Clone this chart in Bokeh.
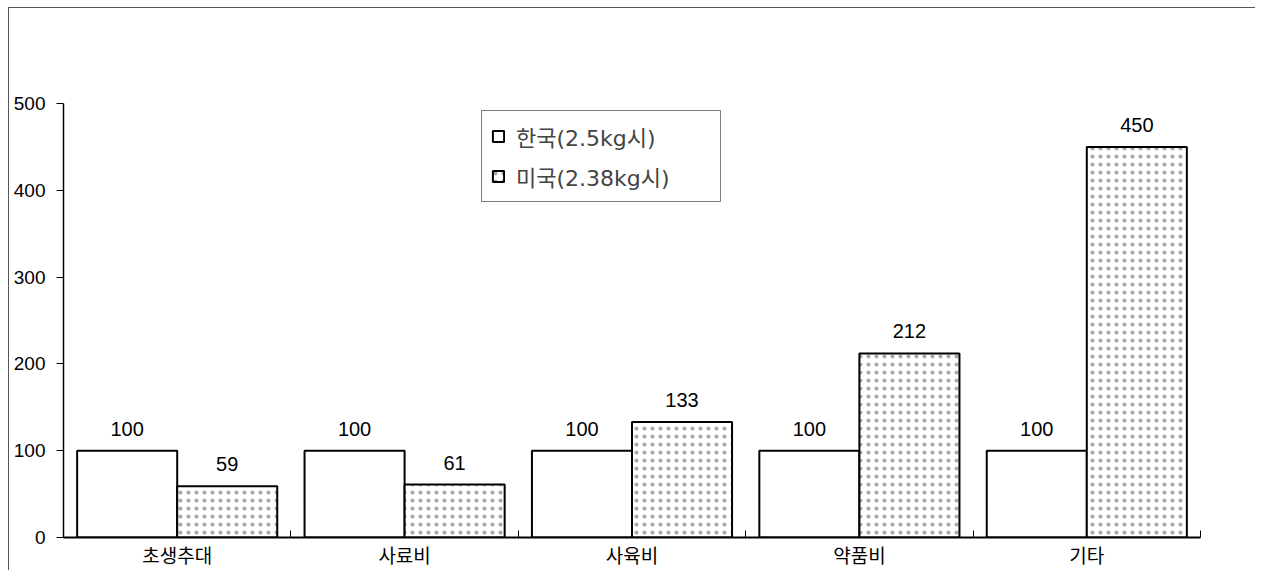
from bokeh.plotting import figure
from bokeh.models import (FixedTicker, ColumnDataSource, LabelSet, Legend,
                          LegendItem, Range1d)
from bokeh.core.properties import value
from bokeh.embed import file_html
from bokeh.resources import INLINE

# ---- data ----
categories = ["초생추대", "사료비", "사육비", "약품비", "기타"]
korea = [100, 100, 100, 100, 100]
usa = [59, 61, 133, 212, 450]
series_names = ["한국(2.5kg시)", "미국(2.38kg시)"]
y_ticks = [0, 100, 200, 300, 400, 500]

# ---- derived positions (from category index) ----
centers = [i + 0.5 for i in range(len(categories))]
bar_w = 0.44
kx = [c - bar_w / 2 for c in centers]
ux = [c + bar_w / 2 for c in centers]

src_k = ColumnDataSource(dict(x=kx, top=korea, label=[str(v) for v in korea]))
src_u = ColumnDataSource(dict(x=ux, top=usa, label=[str(v) for v in usa]))

NUM_FONT = "Liberation Sans"
KR_FONT = "Noto Sans CJK KR"

p = figure(width=1255, height=570, output_backend="svg", toolbar_location=None,
           x_range=Range1d(0, len(categories)), y_range=Range1d(0, 500),
           min_border_left=63, min_border_right=55, min_border_top=103,
           min_border_bottom=28)
p.outline_line_color = None
p.background_fill_color = "white"
p.border_fill_color = None
# thin outer frame lines (left and top) like the scanned chart's border
p.styles = {
    "background-color": "white",
    "background-image": "linear-gradient(#555,#555), linear-gradient(#555,#555)",
    "background-size": "1px 100%, 100% 1px",
    "background-position": "8px 7px, 8px 7px",
    "background-repeat": "no-repeat",
}

rk = p.vbar(x="x", top="top", width=bar_w, source=src_k, fill_color="white",
            line_color="black", line_width=2)
ru = p.vbar(x="x", top="top", width=bar_w, source=src_u, fill_color="white",
            line_color="black", line_width=2, hatch_pattern="dot",
            hatch_color="#a8a8a8", hatch_scale=8, hatch_weight=1)

for src in (src_k, src_u):
    p.add_layout(LabelSet(x="x", y="top", text="label", source=src,
                          text_align="center", text_baseline="alphabetic",
                          y_offset=15, text_font=value(NUM_FONT),
                          text_font_size="20px", text_color="black"))

# y axis
p.yaxis.ticker = FixedTicker(ticks=y_ticks)
p.yaxis.major_tick_out = 7
p.yaxis.major_tick_in = 0
p.yaxis.minor_tick_line_color = None
p.yaxis.axis_line_color = "black"
p.yaxis.axis_line_width = 1.5
p.yaxis.major_tick_line_color = "black"
p.yaxis.major_label_text_font = NUM_FONT
p.yaxis.major_label_text_font_size = "19px"
p.yaxis.major_label_text_color = "black"
p.yaxis.major_label_standoff = 11

# x axis: labels at category centres, small inward ticks at boundaries
p.xaxis.ticker = FixedTicker(ticks=centers,
                             minor_ticks=[float(i) for i in range(1, len(categories) + 1)])
p.xaxis.major_label_overrides = {c: name for c, name in zip(centers, categories)}
p.xaxis.major_tick_in = 0
p.xaxis.major_tick_out = 0
p.xaxis.minor_tick_in = 7
p.xaxis.minor_tick_out = 0
p.xaxis.minor_tick_line_color = "black"
p.xaxis.axis_line_color = "black"
p.xaxis.axis_line_width = 2
p.xaxis.major_label_text_font = KR_FONT
p.xaxis.major_label_text_font_size = "19px"
p.xaxis.major_label_text_color = "black"
p.xaxis.major_label_standoff = 3

# grid: only faint dotted line at top
p.xgrid.visible = False
p.ygrid.ticker = FixedTicker(ticks=[500])
p.ygrid.grid_line_color = "#a0a0a0"
p.ygrid.grid_line_dash = "2 4"

legend = Legend(items=[LegendItem(label=series_names[0], renderers=[rk]),
                       LegendItem(label=series_names[1], renderers=[ru])],
                location=(418, 335))
legend.label_text_font = f"'DejaVu Sans', '{KR_FONT}'"
legend.label_text_font_size = "22px"
legend.label_text_line_height = 1.0
legend.glyph_width = 14
legend.glyph_height = 14
legend.label_standoff = 11
legend.label_height = 26
legend.label_width = 195
legend.padding = 9
legend.spacing = 8
legend.margin = 0
legend.border_line_color = "black"
legend.border_line_width = 1
legend.background_fill_alpha = 1
p.add_layout(legend)

open("out.html", "w").write(file_html(p, INLINE))
